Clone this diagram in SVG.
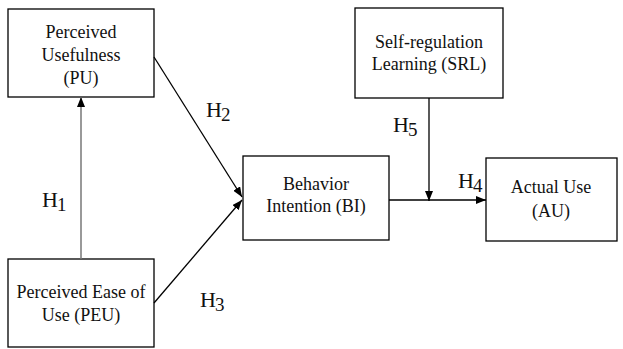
<svg xmlns="http://www.w3.org/2000/svg" width="623" height="349" viewBox="0 0 623 349">
<style>
.box{fill:#fff;stroke:#000;stroke-width:1.3}
.t{font-size:18px;fill:#111;text-anchor:middle}
.h{font-size:22px;fill:#111}
.c{stroke:#000;stroke-width:1.3;fill:none}
</style>
<defs>
<marker id="a" markerWidth="10" markerHeight="8" refX="10" refY="4" orient="auto" markerUnits="userSpaceOnUse">
<path d="M0,0 L10,4 L0,8 Z" fill="#000"/>
</marker>
</defs>
<g font-family="'Liberation Serif', 'Times New Roman', serif">
<g id="PU"><rect class="box" x="8" y="9" width="146" height="88"/>
<text class="t" x="81" y="38">Perceived</text><text class="t" x="81" y="61">Usefulness</text><text class="t" x="81" y="84">(PU)</text></g>
<g id="PEU"><rect class="box" x="8" y="259" width="146" height="88"/>
<text class="t" x="81" y="298">Perceived Ease of</text><text class="t" x="81" y="321">Use (PEU)</text></g>
<g id="BI"><rect class="box" x="243" y="156" width="146" height="84"/>
<text class="t" x="316" y="190">Behavior</text><text class="t" x="316" y="212">Intention (BI)</text></g>
<g id="SRL"><rect class="box" x="355" y="8" width="148" height="90"/>
<text class="t" x="429" y="48">Self-regulation</text><text class="t" x="429" y="70">Learning (SRL)</text></g>
<g id="AU"><rect class="box" x="486" y="158" width="131" height="83"/>
<text class="t" x="551" y="193">Actual Use</text><text class="t" x="551" y="217">(AU)</text></g>
<g id="connectors">
<line x1="81" y1="259" x2="81" y2="97" stroke="#777" stroke-width="1.5" marker-end="url(#a)"/>
<line class="c" x1="154" y1="57" x2="242" y2="197" marker-end="url(#a)"/>
<line class="c" x1="154" y1="303" x2="242" y2="200" marker-end="url(#a)"/>
<line class="c" x1="389" y1="200" x2="486" y2="200" marker-end="url(#a)"/>
<line class="c" x1="429" y1="98" x2="429" y2="201" marker-end="url(#a)"/>
</g>
<g id="labels">
<text class="h" x="42" y="207">H<tspan dx="-1" dy="4" font-size="19">1</tspan></text>
<text class="h" x="206" y="117">H<tspan dx="-1" dy="4" font-size="19">2</tspan></text>
<text class="h" x="200" y="307">H<tspan dx="-1" dy="4" font-size="19">3</tspan></text>
<text class="h" x="458" y="188">H<tspan dx="-1" dy="4" font-size="19">4</tspan></text>
<text class="h" x="393" y="132">H<tspan dx="-1" dy="4" font-size="19">5</tspan></text>
</g>
</g>
</svg>
